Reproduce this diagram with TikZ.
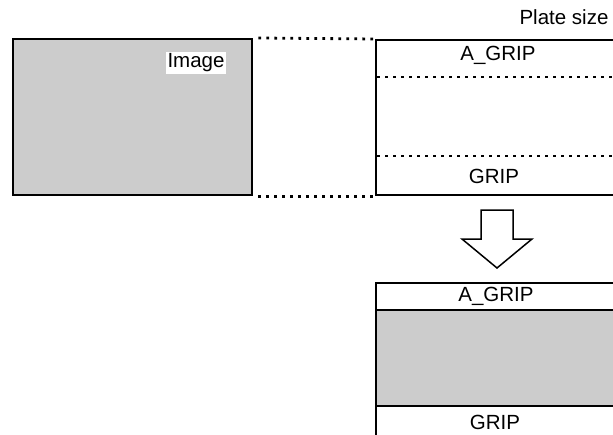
\documentclass[tikz,border=0pt]{standalone}
\usepackage{fontspec}
\setmainfont{Liberation Sans}
\definecolor{boxgray}{HTML}{CCCCCC}
\tikzset{
  frame/.style={draw=black, line width=2.4pt},
  dotline/.style={draw=black, line width=2.8pt, dash pattern=on 2.8pt off 5.2pt},
  lbl/.style={font=\fontsize{20.5}{24}\selectfont, inner sep=1.5pt, text=black},
}
\begin{document}
\begin{tikzpicture}[x=1pt, y=-1pt]
\useasboundingbox (0,0) rectangle (613,434);
\clip (0,0) rectangle (613,434);
% source image
\node[frame, fill=boxgray, minimum width=239pt, minimum height=156pt, inner sep=0pt, anchor=north west] (img) at (12,38) {};
\node[lbl, fill=white] (imglbl) at (196,63) {Image};
% plate
\node[frame, minimum width=250pt, minimum height=155pt, inner sep=0pt, anchor=north west] (plate) at (375,39) {};
\coordinate (pt1) at (377,77);
\coordinate (pt2) at (613,77);
\coordinate (pb1) at (377,156);
\coordinate (pb2) at (613,156);
\draw[dotline] (pt1) -- (pt2);
\draw[dotline] (pb1) -- (pb2);
\draw[dotline] (img.north east) ++(5,0) -- (plate.north west);
\draw[dotline] (img.south east) ++(5,0) -- (plate.south west);
\node[lbl] (agrip1) at (498,55) {A\_GRIP};
\node[lbl] (grip1) at (494,176) {GRIP};
\node[lbl] (platesize) at (564,17) {Plate size};
% arrow
\draw[line width=1.5pt, line join=miter, fill=white] (481,210) -- (513,210) -- (513,239) -- (532,239) -- (497,268) -- (462,239) -- (481,239) -- cycle;
% result
\fill[boxgray] (375,310) rectangle (625,406);
\node[frame, minimum width=250pt, minimum height=170pt, inner sep=0pt, anchor=north west] (res) at (375,282) {};
\coordinate (r1) at (375,310);
\coordinate (r2) at (625,310);
\coordinate (r3) at (375,406);
\coordinate (r4) at (625,406);
\draw[frame] (r1) -- (r2);
\draw[frame] (r3) -- (r4);
\node[lbl] (agrip2) at (496,296) {A\_GRIP};
\node[lbl] (grip2) at (495,422) {GRIP};
\end{tikzpicture}
\end{document}
